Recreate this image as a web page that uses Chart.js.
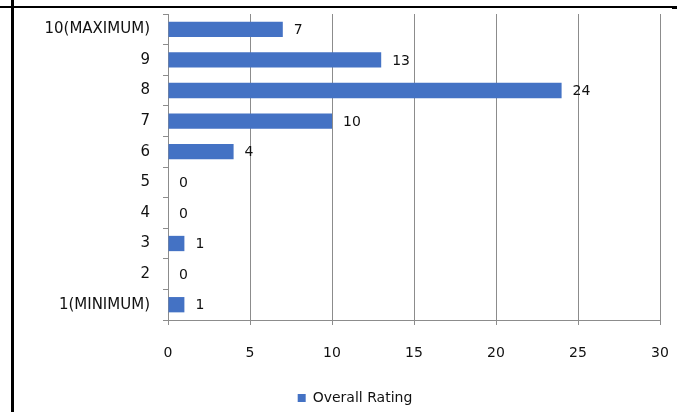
<!DOCTYPE html>
<html>
<head>
<meta charset="utf-8">
<script src="https://cdn.jsdelivr.net/npm/chart.js@4/dist/chart.umd.min.js"></script>
<style>
  html, body { margin: 0; padding: 0; background: #fff; }
  #chartWrap { width: 677px; height: 412px; }
</style>
</head>
<body>
<div id="chartWrap"><canvas id="ratingChart" width="677" height="412"></canvas></div>
<script>
// Avaliação geral - barras horizontais
const categorias = ['10(MAXIMUM)', '9', '8', '7', '6', '5', '4', '3', '2', '1(MINIMUM)'];
const overallRating = [7, 13, 24, 10, 4, 0, 0, 1, 0, 1];
const xTicks = [0, 5, 10, 15, 20, 25, 30];

const corBarra = '#4472C4';
const corGrade = '#8c8c8c';
const corTexto = '#111';
const fonte = '"DejaVu Sans", sans-serif';

// moldura preta (restos da tabela do documento)
const moldura = {
  id: 'moldura',
  afterDraw(chart) {
    const ctx = chart.ctx;
    ctx.save();
    ctx.fillStyle = '#000';
    ctx.fillRect(11, 0, 3, 412);
    ctx.fillRect(0, 6, 674, 2);
    ctx.fillRect(672, 6, 5, 3);
    ctx.restore();
  }
};

// legenda um pouco deslocada para a direita, como no original
const ajusteLegenda = {
  id: 'ajusteLegenda',
  afterLayout(chart) {
    const lg = chart.legend;
    if (!lg) return;
    lg.left += 25;
    lg.right += 25;
  }
};

// rótulos de valor no fim de cada barra
const rotulos = {
  id: 'rotulos',
  afterDatasetsDraw(chart) {
    const ctx = chart.ctx;
    const meta = chart.getDatasetMeta(0);
    ctx.save();
    ctx.font = '14px ' + fonte;
    ctx.fillStyle = corTexto;
    ctx.textAlign = 'left';
    ctx.textBaseline = 'middle';
    meta.data.forEach((bar, i) => {
      ctx.fillText(String(overallRating[i]), bar.x + 11, bar.y + 1);
    });
    ctx.restore();
  }
};

new Chart(document.getElementById('ratingChart').getContext('2d'), {
  type: 'bar',
  data: {
    labels: categorias,
    datasets: [{
      label: 'Overall Rating',
      data: overallRating,
      backgroundColor: corBarra,
      borderWidth: 0,
      categoryPercentage: 1,
      barPercentage: 0.5
    }]
  },
  options: {
    indexAxis: 'y',
    responsive: false,
    animation: false,
    devicePixelRatio: 1,
    layout: { autoPadding: false, padding: { left: 0, right: 17, top: 14, bottom: -3 } },
    plugins: {
      legend: {
        position: 'bottom',
        labels: {
          boxWidth: 8, boxHeight: 8, padding: 6,
          color: corTexto,
          font: { family: fonte, size: 14 }
        }
      },
      tooltip: { enabled: false }
    },
    scales: {
      x: {
        min: 0, max: 30,
        afterBuildTicks: s => { s.ticks = xTicks.map(v => ({ value: v })); },
        afterFit: s => { s.height = 65; s.paddingLeft = 0; s.paddingRight = 0; },
        grid: { color: corGrade, lineWidth: 1, drawTicks: true, tickLength: 5 },
        border: { color: corGrade },
        ticks: { color: corTexto, font: { family: fonte, size: 14 }, padding: 20 }
      },
      y: {
        afterFit: s => { s.width = 168; s.paddingTop = 0; s.paddingBottom = 0; },
        grid: { drawOnChartArea: false, drawTicks: true, tickLength: 5, color: corGrade },
        border: { color: corGrade },
        ticks: { color: corTexto, font: { family: fonte, size: 15 }, padding: 13 }
      }
    }
  },
  plugins: [rotulos, ajusteLegenda, moldura]
});
</script>
</body>
</html>
